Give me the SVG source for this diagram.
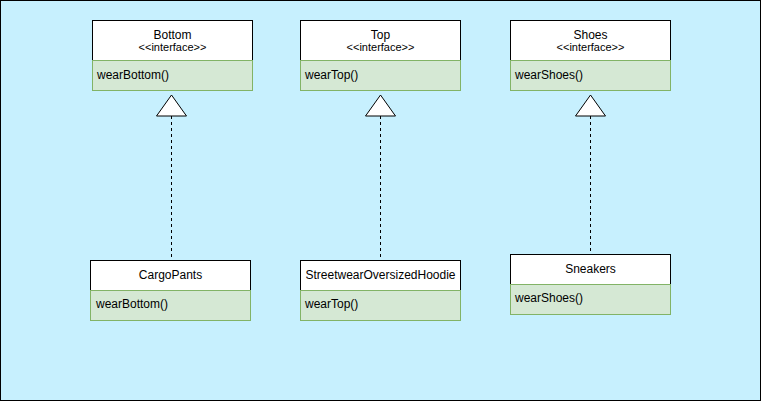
<svg xmlns="http://www.w3.org/2000/svg" width="761" height="401" viewBox="0 0 761 401">
<defs>
<style>
.hdr{fill:#ffffff;stroke:#000000;stroke-width:1}
.body{fill:#d5e8d4;stroke:#82b366;stroke-width:1}
text{font-family:"Liberation Sans",Arial,sans-serif;font-size:12px;fill:#000000}
.c{text-anchor:middle}
.s{font-size:11px}
.dash{stroke:#000000;stroke-width:1;stroke-dasharray:3 3;fill:none}
.tri{fill:#ffffff;stroke:#000000;stroke-width:1}
</style>
</defs>
<rect x="0.5" y="0.5" width="760" height="400" fill="#c7f0fe" stroke="#000000"/>
<g id="connectors">
<line class="dash" x1="171.5" y1="116" x2="171.5" y2="260"/>
<polygon class="tri" points="171.5,95 156.5,116 186.5,116"/>
<line class="dash" x1="380.5" y1="116" x2="380.5" y2="260"/>
<polygon class="tri" points="380.5,95 365.5,116 395.5,116"/>
<line class="dash" x1="590.5" y1="116" x2="590.5" y2="254"/>
<polygon class="tri" points="590.5,95 575.5,116 605.5,116"/>
</g>
<g id="Bottom">
<rect class="hdr" x="92.5" y="20.5" width="160" height="40"/>
<rect class="body" x="92.5" y="60.5" width="160" height="30"/>
<text class="c" x="172.5" y="38.5">Bottom</text>
<text class="c s" x="172.5" y="51">&lt;&lt;interface&gt;&gt;</text>
<text x="97" y="79">wearBottom()</text>
</g>
<g id="Top">
<rect class="hdr" x="300.5" y="20.5" width="160" height="40"/>
<rect class="body" x="300.5" y="60.5" width="160" height="30"/>
<text class="c" x="380.5" y="38.5">Top</text>
<text class="c s" x="380.5" y="51">&lt;&lt;interface&gt;&gt;</text>
<text x="305" y="79">wearTop()</text>
</g>
<g id="Shoes">
<rect class="hdr" x="510.5" y="20.5" width="160" height="40"/>
<rect class="body" x="510.5" y="60.5" width="160" height="30"/>
<text class="c" x="590.5" y="38.5">Shoes</text>
<text class="c s" x="590.5" y="51">&lt;&lt;interface&gt;&gt;</text>
<text x="515" y="79">wearShoes()</text>
</g>
<g id="CargoPants">
<rect class="hdr" x="90.5" y="260.5" width="160" height="30"/>
<rect class="body" x="90.5" y="290.5" width="160" height="30"/>
<text class="c" x="170.5" y="279">CargoPants</text>
<text x="96" y="308">wearBottom()</text>
</g>
<g id="StreetwearOversizedHoodie">
<rect class="hdr" x="300.5" y="260.5" width="160" height="30"/>
<rect class="body" x="300.5" y="290.5" width="160" height="30"/>
<text class="c" x="380.5" y="279">StreetwearOversizedHoodie</text>
<text x="305" y="308">wearTop()</text>
</g>
<g id="Sneakers">
<rect class="hdr" x="510.5" y="254.5" width="160" height="30"/>
<rect class="body" x="510.5" y="284.5" width="160" height="30"/>
<text class="c" x="590.5" y="273">Sneakers</text>
<text x="515" y="302">wearShoes()</text>
</g>
</svg>
